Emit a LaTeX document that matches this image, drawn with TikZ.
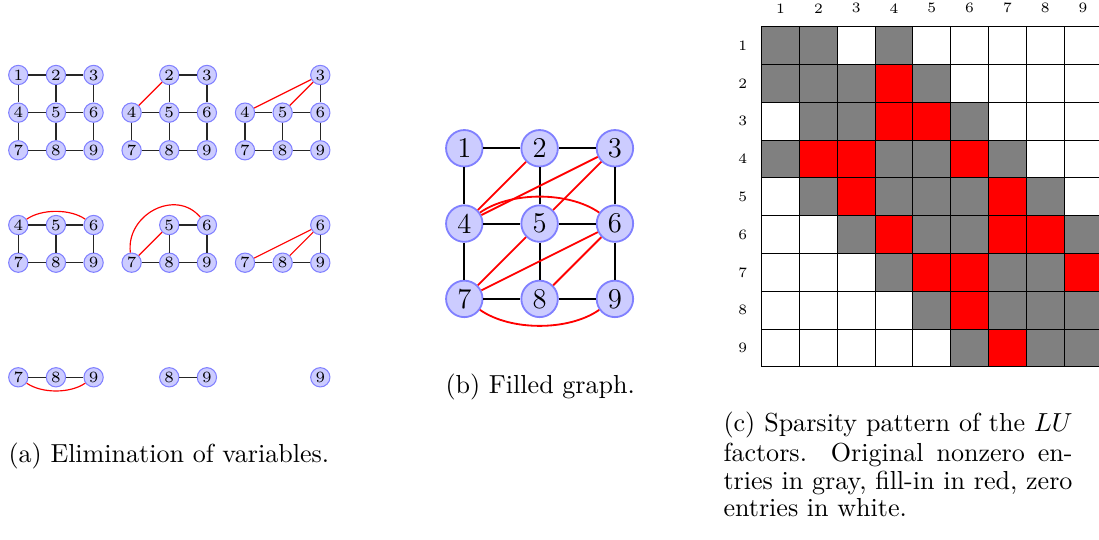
\documentclass[tikz,border=0pt]{standalone}
\usepackage{tikz}
\definecolor{nodefill}{RGB}{204,204,255}
\definecolor{nodedraw}{RGB}{128,128,255}
\definecolor{cG}{RGB}{128,128,128}
\definecolor{cW}{RGB}{255,255,255}
\definecolor{cR}{RGB}{255,0,0}
\tikzset{
  smallv/.style={circle, fill=nodefill, draw=nodedraw, line width=0.4pt, minimum size=7.4pt, inner sep=0pt, font=\fontsize{6}{7}\selectfont},
  bigv/.style={circle, fill=nodefill, draw=nodedraw, line width=0.7pt, minimum size=14pt, inner sep=0pt, font=\fontsize{11}{13}\selectfont},
  sedge/.style={line width=0.5pt, black!85},
  sfill/.style={line width=0.45pt, red},
  bedge/.style={line width=0.7pt, black},
  bfill/.style={line width=0.7pt, red},
  cell/.style={line width=0.4pt, draw=black},
  lbl/.style={font=\fontsize{5.5}{6}\selectfont, inner sep=0pt},
  captext/.style={anchor=base west, inner sep=0pt, font=\fontsize{10}{12}\selectfont},
}
\newcommand{\gverts}[6]{%
  \foreach \n in {#6}{%
    \pgfmathsetmacro{\vxA}{#2+#4*mod(\n-1,3)}%
    \pgfmathsetmacro{\vyA}{#3-#4*int((\n-1)/3)}%
    \node[#5] (#1\n) at (\vxA,\vyA) {\n};
  }}
\begin{document}
\begin{tikzpicture}[x=0.3837pt,y=0.3837pt]
\useasboundingbox (0,0) rectangle (1099,540);
\clip (0,0) rectangle (1099,540);

% ---------- (a) elimination of variables ----------
\gverts{gA}{18.3}{465}{37.65}{smallv}{1,...,9}
\foreach \a/\b in {1/2,2/3,1/4,2/5,3/6,4/5,5/6,4/7,5/8,6/9,7/8,8/9}
  \draw[sedge] (gA\a) -- (gA\b);

\gverts{gB}{131.6}{465}{37.65}{smallv}{2,...,9}
\foreach \a/\b in {2/3,2/5,3/6,4/5,5/6,4/7,5/8,6/9,7/8,8/9}
  \draw[sedge] (gB\a) -- (gB\b);
\draw[sfill] (gB2) -- (gB4);

\gverts{gC}{245}{465}{37.65}{smallv}{3,...,9}
\foreach \a/\b in {3/6,4/5,5/6,4/7,5/8,6/9,7/8,8/9}
  \draw[sedge] (gC\a) -- (gC\b);
\draw[sfill] (gC3) -- (gC4);
\draw[sfill] (gC3) -- (gC5);

\gverts{gD}{18.3}{352.6}{37.65}{smallv}{4,...,9}
\foreach \a/\b in {4/5,5/6,4/7,5/8,6/9,7/8,8/9}
  \draw[sedge] (gD\a) -- (gD\b);
\draw[sfill] (gD4) to[bend left=35, looseness=0.8] (gD6);

\gverts{gE}{131.6}{352.6}{37.65}{smallv}{5,...,9}
\foreach \a/\b in {5/6,5/8,6/9,7/8,8/9}
  \draw[sedge] (gE\a) -- (gE\b);
\draw[sfill] (gE7) -- (gE5);
\draw[sfill] (gE7) to[out=97, in=130, looseness=1.25] (gE6);

\gverts{gF}{245}{352.6}{37.65}{smallv}{6,...,9}
\foreach \a/\b in {6/9,7/8,8/9}
  \draw[sedge] (gF\a) -- (gF\b);
\draw[sfill] (gF7) -- (gF6);
\draw[sfill] (gF8) -- (gF6);

\gverts{gG}{18.3}{238}{37.65}{smallv}{7,8,9}
\foreach \a/\b in {7/8,8/9}
  \draw[sedge] (gG\a) -- (gG\b);
\draw[sfill] (gG7) to[bend right=35, looseness=0.8] (gG9);

\gverts{gH}{131.6}{238}{37.65}{smallv}{8,9}
\draw[sedge] (gH8) -- (gH9);

\gverts{gI}{245}{238}{37.65}{smallv}{9}

\node[captext] (capa) at (8,77) {(a) Elimination of variables.};

% ---------- (b) filled graph ----------
\gverts{bN}{464.3}{391.7}{75.3}{bigv}{1,...,9}
\foreach \a/\b in {1/2,2/3,1/4,2/5,3/6,4/5,5/6,4/7,5/8,6/9,7/8,8/9}
  \draw[bedge] (bN\a) -- (bN\b);
\foreach \a/\b in {4/2,4/3,5/3,7/5,7/6,8/6}
  \draw[bfill] (bN\a) -- (bN\b);
\draw[bfill] (bN4) to[bend left=35, looseness=0.8] (bN6);
\draw[bfill] (bN7) to[bend right=35, looseness=0.8] (bN9);

\node[captext] (capb) at (445,146) {(b) Filled graph.};

% ---------- (c) sparsity pattern ----------
\foreach \row [count=\r] in {{G,G,W,G,W,W,W,W,W},{G,G,G,R,G,W,W,W,W},{W,G,G,R,R,G,W,W,W},{G,R,R,G,G,R,G,W,W},{W,G,R,G,G,G,R,G,W},{W,W,G,R,G,G,R,R,G},{W,W,W,G,R,R,G,G,R},{W,W,W,W,G,R,G,G,G},{W,W,W,W,W,G,R,G,G}}{
  \foreach \v [count=\c] in \row {
    \draw[cell, fill=c\v] ({761.7+37.8*(\c-1)},{513.3-37.8*\r}) rectangle ++(37.8,37.8);
  }
}
\foreach \k in {1,...,9}{
  \node[lbl] (col\k) at ({761.7+37.8*(\k-0.5)},531.7) {\k};
  \node[lbl] (row\k) at (742.7,{532.2-37.8*\k}) {\k};
}

\node[captext] (capc1) at (723,108.3) {\makebox[133.9pt][s]{(c) Sparsity pattern of the $LU$}};
\node[captext] (capc2) at (723,78.3) {\makebox[133.9pt][s]{factors. Original nonzero en-}};
\node[captext] (capc3) at (723,50) {\makebox[133.9pt][s]{tries in gray, fill-in in red, zero}};
\node[captext] (capc4) at (723,23.3) {entries in white.};
\end{tikzpicture}
\end{document}
